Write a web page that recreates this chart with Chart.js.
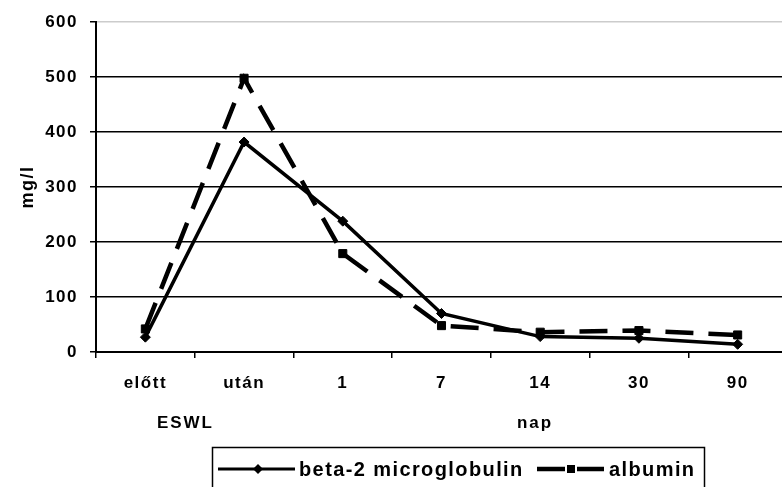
<!DOCTYPE html>
<html>
<head>
<meta charset="utf-8">
<script src="https://cdn.jsdelivr.net/npm/chart.js@4/dist/chart.umd.min.js"></script>
<style>
html,body{margin:0;padding:0;background:#fff;width:782px;height:487px;overflow:hidden}
#wrap{position:absolute;left:0;top:0;width:800px;height:500px}
</style>
</head>
<body>
<div id="wrap"><canvas id="chart" width="800" height="500"></canvas></div>
<script>
// values
const categories = ['előtt','után','1','7','14','30','90'];
const beta2 = [27,382,238,70,28,25,14];
const albumin = [42,498,179,48,36,39,31];
const yTicks = [0,100,200,300,400,500,600];
const seriesNames = ['beta-2 microglobulin','albumin'];
const yTitle = 'mg/l';
const noteLeft = 'ESWL';
const noteRight = 'nap';

const FONT = '"Liberation Sans", Arial, sans-serif';

// extra texts + legend box, drawn straight on the canvas
const extras = {
  id:'extras',
  beforeDraw(chart){ chart.ctx.letterSpacing = '1.5px'; },
  afterDraw(chart){
    const c = chart.ctx;
    c.save();
    c.fillStyle = '#000'; c.strokeStyle = '#000';
    // y title
    c.letterSpacing = '1.5px';
    c.font = 'bold 18px ' + FONT;
    c.save(); c.translate(28, 187); c.rotate(-Math.PI/2);
    c.textAlign = 'center'; c.textBaseline = 'middle';
    c.fillText(yTitle, 0, 0); c.restore();
    // notes under the axis
    c.font = 'bold 17px ' + FONT;
    c.letterSpacing = '2px';
    c.textBaseline = 'alphabetic';
    c.textAlign = 'right'; c.fillText(noteLeft, 214, 428);
    c.textAlign = 'center'; c.fillText(noteRight, 535, 428);
    // legend
    c.lineWidth = 1.5; c.setLineDash([]);
    c.strokeRect(212.5, 447.5, 492, 80);
    const ly = 469;
    c.lineWidth = 3;
    c.beginPath(); c.moveTo(218, ly); c.lineTo(295, ly); c.stroke();
    c.beginPath(); c.moveTo(258, ly-5); c.lineTo(263, ly); c.lineTo(258, ly+5); c.lineTo(253, ly); c.closePath(); c.fill();
    c.lineWidth = 4.5; c.setLineDash([28,12]);
    c.beginPath(); c.moveTo(537, ly); c.lineTo(604, ly); c.stroke();
    c.setLineDash([]);
    c.fillRect(567, ly-4, 8, 8);
    c.font = 'bold 20px ' + FONT;
    c.letterSpacing = '1.4px';
    c.textAlign = 'left'; c.textBaseline = 'alphabetic';
    c.fillText(seriesNames[0], 299, 476);
    c.fillText(seriesNames[1], 609, 476);
    c.restore();
  }
};

new Chart(document.getElementById('chart'), {
  type:'line',
  data:{
    labels:categories,
    datasets:[
      {label:seriesNames[0], data:beta2, borderColor:'#000', backgroundColor:'#000', borderWidth:3.5,
       pointStyle:'rectRot', pointRadius:5, pointBorderWidth:1, tension:0},
      {label:seriesNames[1], data:albumin, borderColor:'#000', backgroundColor:'#000', borderWidth:4.5,
       borderDash:[28,15], pointStyle:'rect', pointRadius:5.7, pointBorderWidth:1, tension:0}
    ]
  },
  options:{
    responsive:false, animation:false, devicePixelRatio:1,
    layout:{padding:{left:0, top:21, right:13, bottom:0}},
    plugins:{legend:{display:false}, tooltip:{enabled:false}},
    scales:{
      x:{
        offset:true,
        grid:{offset:true, drawOnChartArea:false, color:'#000', tickColor:'#000', lineWidth:1.5, tickLength:6},
        border:{color:'#000', width:2},
        ticks:{color:'#000', font:{family:FONT, size:17, weight:'bold'}, padding:15, maxRotation:0, autoSkip:false},
        afterFit(s){ s.height = 148; }
      },
      y:{
        min:0, max:600,
        afterBuildTicks(s){ s.ticks = yTicks.map(v=>({value:v})); },
        grid:{color:ctx=>ctx.tick && ctx.tick.value===600 ? '#cccccc' : '#000', tickColor:'#000', lineWidth:1.5, tickLength:6},
        border:{color:'#000', width:2},
        ticks:{color:'#000', font:{family:FONT, size:17, weight:'bold'}, padding:12},
        afterFit(s){ s.width = 96; }
      }
    }
  },
  plugins:[extras]
});
</script>
</body>
</html>
